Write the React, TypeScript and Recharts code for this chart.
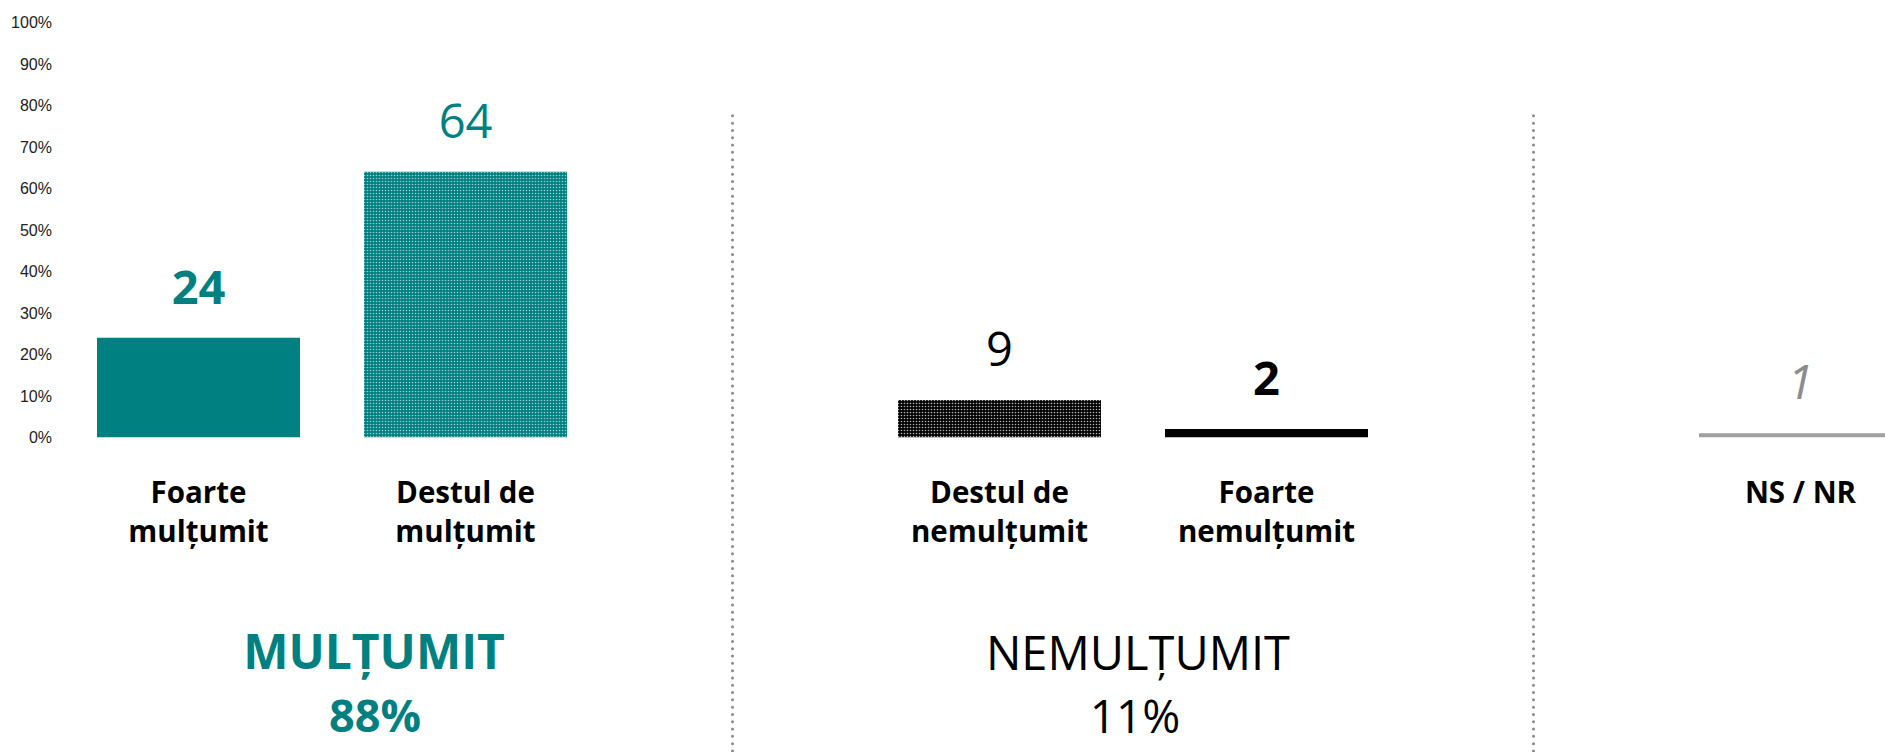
import React from 'react';
import { BarChart, Bar, XAxis, YAxis, Cell, LabelList, ReferenceLine, Customized } from 'recharts';

// categories (sep1/sep2 are empty slots holding the dotted dividers)
const categories = ['Foarte mulțumit', 'Destul de mulțumit', 'sep1', 'Destul de nemulțumit', 'Foarte nemulțumit', 'sep2', 'NS / NR'];
const categoryLines = [['Foarte', 'mulțumit'], ['Destul de', 'mulțumit'], [], ['Destul de', 'nemulțumit'], ['Foarte', 'nemulțumit'], [], ['NS / NR']];
const values = [24, 64, null, 9, 2, null, 1];
const yTicks = [0, 10, 20, 30, 40, 50, 60, 70, 80, 90, 100];
const groupNames = ['MULȚUMIT', 'NEMULȚUMIT'];
const groupTotals = [88, 11];

const TEAL = '#008080';
const FONT = '"Open Sans", sans-serif';

const barFills = [TEAL, 'url(#tealDots)', 'none', 'url(#blackDots)', '#000000', 'none', '#a0a0a0'];
const labelStyles: any[] = [
    { fill: TEAL, fontWeight: 700, fontStyle: 'normal' },
    { fill: TEAL, fontWeight: 400, fontStyle: 'normal' },
    null,
    { fill: '#000', fontWeight: 400, fontStyle: 'normal' },
    { fill: '#000', fontWeight: 700, fontStyle: 'normal' },
    null,
    { fill: '#8c8c8c', fontWeight: 400, fontStyle: 'italic' },
];

const data = categories.map((name, i) => ({ name, value: values[i], idx: i }));

// value is the category index, so styles line up even though empty slots draw no bar
const ValueLabel = (props: any) => {
    const { x, y, width, value } = props;
    const v = values[value];
    if (v == null) return null;
    const st = labelStyles[value];
    return (
        <text x={x + width / 2} y={y - 34} textAnchor="middle" fontFamily={FONT} fontSize={47} {...st}>
            {v}
        </text>
    );
};

const CategoryTick = (props: any) => {
    const { x, y, payload } = props;
    const lines = categoryLines[payload.index] || [];
    return (
        <g>
            {lines.map((l, i) => (
                <text key={i} x={x} y={y + 66 + i * 38.5} textAnchor="middle" fontFamily={FONT} fontSize={29.5} fontWeight={700} fill="#000">
                    {l}
                </text>
            ))}
        </g>
    );
};

const GroupLabels = () => (
    <g fontFamily={FONT}>
        <text x={374} y={669} textAnchor="middle" fontSize={48} fontWeight={700} fill={TEAL}>{groupNames[0]}</text>
        <text x={375} y={732} textAnchor="middle" fontSize={45} fontWeight={700} fill={TEAL}>{groupTotals[0]}%</text>
        <text x={1138} y={670} textAnchor="middle" fontSize={47} fontWeight={400} fill="#000">{groupNames[1]}</text>
        <text x={1135} y={733} textAnchor="middle" fontSize={46} fontWeight={400} fill="#000">{groupTotals[1]}%</text>
    </g>
);

const App = () => {
    return (
        <div style={{ position: 'absolute', left: 0, top: 0, width: 1885, height: 752, overflow: 'hidden', background: '#fff' }}>
            <BarChart width={1934} height={752} data={data} margin={{ top: 22.5, right: 0, left: 0, bottom: 194.7 }} barSize={203}>
                <defs>
                    <pattern id="tealDots" width={3} height={3} patternUnits="userSpaceOnUse">
                        <rect width={3} height={3} fill={TEAL} />
                        <circle cx={1.5} cy={1.5} r={0.8} fill="#ffffff" fillOpacity={0.6} />
                    </pattern>
                    <pattern id="blackDots" width={3} height={3} patternUnits="userSpaceOnUse">
                        <rect width={3} height={3} fill="#000" />
                        <circle cx={1.5} cy={1.5} r={0.8} fill="#ffffff" fillOpacity={0.7} />
                    </pattern>
                </defs>
                <XAxis dataKey="name" axisLine={false} tickLine={false} tickSize={0} tickMargin={0} height={120} interval={0} tick={<CategoryTick />} />
                <YAxis
                    domain={[0, 100]}
                    ticks={yTicks}
                    width={65}
                    axisLine={false}
                    tickLine={false}
                    tickSize={0}
                    tickMargin={13}
                    tickFormatter={(v) => `${v}%`}
                    tick={{ fontFamily: '"Liberation Sans", Arial, sans-serif', fontSize: 16, fill: '#222' }}
                />
                <ReferenceLine segment={[{ x: 'sep1', y: 77.5 }, { x: 'sep1', y: -90 }]} ifOverflow="visible" stroke="#8a8a8a" strokeWidth={3} strokeDasharray="0 7.3" strokeLinecap="round" />
                <ReferenceLine segment={[{ x: 'sep2', y: 77.5 }, { x: 'sep2', y: -90 }]} ifOverflow="visible" stroke="#8a8a8a" strokeWidth={3} strokeDasharray="0 7.3" strokeLinecap="round" />
                <Bar dataKey="value" isAnimationActive={false}>
                    {data.map((d, i) => (
                        <Cell key={d.name} fill={barFills[i]} />
                    ))}
                    <LabelList dataKey="idx" content={<ValueLabel />} />
                </Bar>
                <Customized component={<GroupLabels />} />
            </BarChart>
        </div>
    );
};

export default App;
